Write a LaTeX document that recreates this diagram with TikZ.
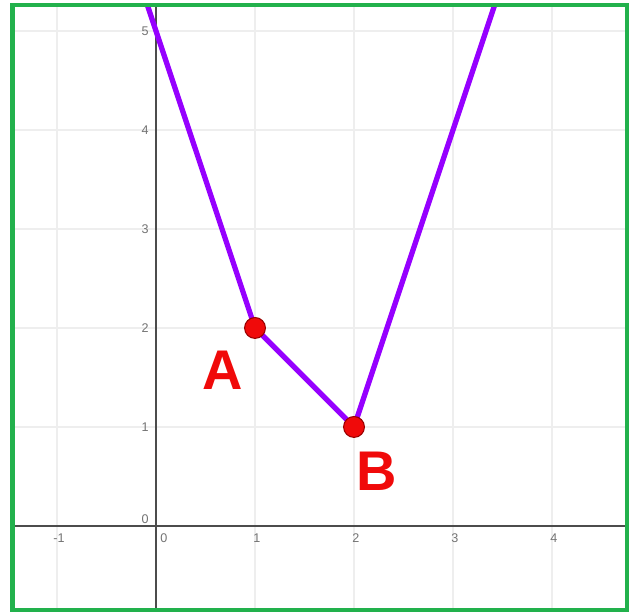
\documentclass[tikz,border=0pt]{standalone}
\usepackage{fontspec}
\setmainfont{Liberation Sans}
\definecolor{frame}{RGB}{34,177,76}
\definecolor{curve}{RGB}{150,0,255}
\definecolor{ptred}{RGB}{240,10,10}
\definecolor{gridc}{RGB}{238,238,238}
\tikzset{
  gridline/.style={draw=gridc, line width=0.35pt},
  axisline/.style={draw=black!70, line width=0.6pt},
  ticklab/.style={font=\fontsize{3.6}{4}\selectfont, text=black!55, inner sep=0.5pt},
  pt/.style={circle, fill=ptred, draw=red!60!black, line width=0.3pt, minimum size=0.21cm, inner sep=0pt},
  ptlab/.style={font=\fontsize{16}{18}\selectfont\bfseries, text=ptred, inner sep=0pt},
  graph/.style={draw=curve, line width=1.5pt, line join=round}
}
\begin{document}
\begin{tikzpicture}[x=0.9956cm,y=0.9956cm]
% pixel frame: 1 unit = 99px ; origin at (156,526)
\useasboundingbox (-1.576,-0.899) rectangle (4.889,5.313);
\fill[white] (-1.576,-0.899) rectangle (4.889,5.313);
\begin{scope}
\clip (-1.45,-0.85) rectangle (4.76,5.26);
\foreach \x in {-1,1,2,3,4} \draw[gridline] (\x,-0.85) -- (\x,5.26);
\foreach \y in {1,2,3,4,5} \draw[gridline] (-1.45,\y) -- (4.76,\y);
\draw[axisline] (-1.45,0) -- (4.76,0);
\draw[axisline] (0,-0.85) -- (0,5.26);
\coordinate (top1) at (-0.087,5.26);
\coordinate (top2) at (3.42,5.26);
\coordinate (pA) at (1,2);
\coordinate (pB) at (2,1);
\draw[graph] (top1) -- (pA) -- (pB) -- (top2);
\node[pt] (A) at (pA) {};
\node[pt] (B) at (pB) {};
\end{scope}
\foreach \x in {-1,1,2,3,4} \node[ticklab] (tx\x) at (\x+0.02,-0.12) {\x};
\node[ticklab] (tx0) at (0.08,-0.12) {0};
\foreach \y in {1,2,3,4,5} \node[ticklab] (ty\y) at (-0.11,\y) {\y};
\node[ticklab] (ty0) at (-0.11,0.07) {0};
\node[ptlab] (la) at (0.67,1.57) {A};
\node[ptlab] (lb) at (2.23,0.55) {B};
\draw[frame, line width=1.2pt] (-1.45,-0.85) rectangle (4.76,5.26);
\end{tikzpicture}
\end{document}
